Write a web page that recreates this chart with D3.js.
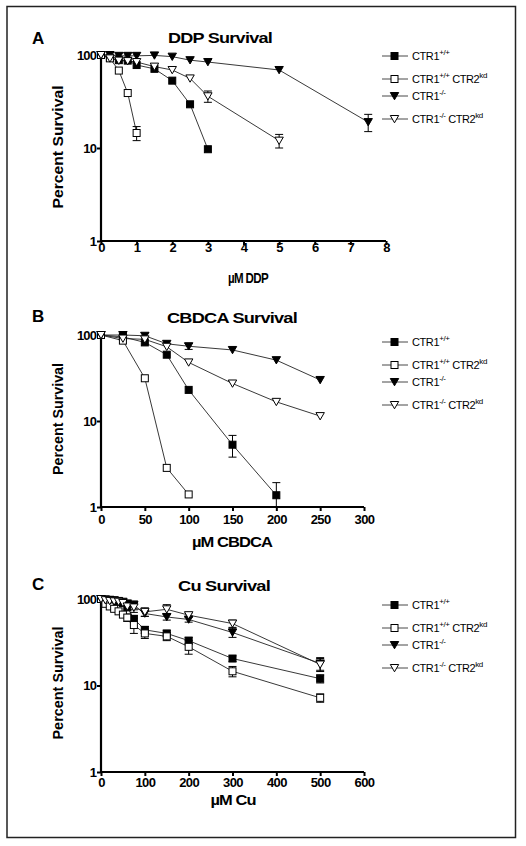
<!DOCTYPE html>
<html><head><meta charset="utf-8">
<script src="https://cdn.jsdelivr.net/npm/d3@7"></script>
<style>body{margin:0;background:#fff}svg{display:block}text{font-family:Arial,"Liberation Sans",sans-serif}</style>
</head><body><div id="chart"></div>
<script>
// ---------- DATA ----------
const seriesKeys = ["wt", "wtKd", "ko", "koKd"];
const legendSup = ["+/+", "+/+", "-/-", "-/-"];
const legendKd = [false, true, false, true];
const markerTypes = ["filledSquare", "openSquare", "filledTriangle", "openTriangle"];

// Panel A: DDP
const ddpX = {
  wt:   [0, 0.25, 0.5, 0.75, 1, 1.5, 2, 2.5, 3],
  wtKd: [0, 0.25, 0.5, 0.75, 1],
  ko:   [0, 0.25, 0.5, 0.75, 1, 1.5, 2, 2.5, 3, 5, 7.5],
  koKd: [0, 0.25, 0.5, 0.75, 1, 1.5, 2, 2.5, 3, 5]
};
const ddpY = {
  wt:   [100, 93, 88, 87, 78, 71, 53, 29.5, 9.7],
  wtKd: [100, 92, 68, 39, 14.5],
  ko:   [100, 100, 98, 98, 98, 99, 96, 88, 84, 69, 19],
  koKd: [100, 92, 87, 86, 84, 75, 69, 56, 36, 12]
};
const ddpErr = {
  wt:   [0, 0, 0, 0, 0, 0, 0, 0, 0],
  wtKd: [0, 0, 0, 0, 2.5],
  ko:   [0, 0, 0, 0, 0, 0, 0, 0, 0, 0, 4],
  koKd: [0, 0, 0, 0, 0, 0, 0, 0, 5, 2]
};
const ddpTicks = [0, 1, 2, 3, 4, 5, 6, 7, 8];

// Panel B: CBDCA
const cbdcaX = {
  wt:   [0, 25, 50, 75, 100, 150, 200],
  wtKd: [0, 25, 50, 75, 100],
  ko:   [0, 25, 50, 75, 100, 150, 200, 250],
  koKd: [0, 25, 50, 75, 100, 150, 200, 250]
};
const cbdcaY = {
  wt:   [100, 95, 82, 59, 23, 5.3, 1.37],
  wtKd: [100, 86, 31.4, 2.85, 1.4],
  ko:   [100, 100, 98, 79, 74, 67, 51, 30],
  koKd: [100, 91, 89, 73, 48, 27.3, 16.7, 11.4]
};
const cbdcaErr = {
  wt:   [0, 0, 0, 0, 0, 1.5, 0.55],
  wtKd: [0, 0, 0, 0, 0],
  ko:   [0, 0, 0, 0, 6, 0, 0, 0],
  koKd: [0, 0, 0, 0, 0, 0, 0, 0]
};
const cbdcaTicks = [0, 50, 100, 150, 200, 250, 300];

// Panel C: Cu
const cuX = [0, 10, 20, 30, 40, 50, 60, 75, 100, 150, 200, 300, 500];
const cuY = {
  wt:   [100, 98, 97, 95, 93, 90, 80, 59, 44, 40, 33, 20.5, 12],
  wtKd: [100, 88, 82, 77, 72, 66, 61, 50, 40, 37, 28, 14.6, 7.2],
  ko:   [100, 99, 98, 97, 95, 93, 89, 85, 68, 62, 58, 41, 18],
  koKd: [100, 97, 95, 94, 93, 90, 82, 80, 71, 76, 65, 52, 17.5]
};
const cuErr = {
  wt:   [0, 0, 0, 0, 0, 0, 0, 5, 4, 3, 3, 1.5, 1.3],
  wtKd: [0, 0, 0, 0, 0, 0, 6, 10, 5, 4, 5, 2, 0.8],
  ko:   [0, 0, 0, 0, 0, 0, 0, 10, 5, 5, 4, 5, 3],
  koKd: [0, 0, 0, 0, 0, 0, 0, 10, 8, 10, 4, 5, 3]
};
const cuTicks = [0, 100, 200, 300, 400, 500, 600];

const yTicks = [1, 10, 100];
const panelLetters = ["A", "B", "C"];
const panelTitles = ["DDP Survival", "CBDCA Survival", "Cu Survival"];
const xTitles = ["\u00B5M DDP", "\u00B5M CBDCA", "\u00B5M Cu"];
const yTitle = "Percent Survival";

// ---------- LAYOUT ----------
const W = 526, H = 846;
const panels = [
  {xs: d => ddpX[d], ys: d => ddpY[d], es: d => ddpErr[d], ticks: ddpTicks, x0: 101, x1: 386, yTop: 55, yBot: 241,
   titleX: 220, titleBase: 43, titleLen: 104, letterBase: 44, xLabY: 249, xTitleX: 248, xTitleY: 283, xTitleLen: 40,
   yTitleY: 147, yTitleLen: 123, legY: 56},
  {xs: d => cbdcaX[d], ys: d => cbdcaY[d], es: d => cbdcaErr[d], ticks: cbdcaTicks, x0: 101, x1: 364, yTop: 335, yBot: 507,
   titleX: 232, titleBase: 323, titleLen: 130, letterBase: 322, xLabY: 521, xTitleX: 232, xTitleY: 547, xTitleLen: 80,
   yTitleY: 419, yTitleLen: 112, legY: 342},
  {xs: d => cuX, ys: d => cuY[d], es: d => cuErr[d], ticks: cuTicks, x0: 101, x1: 364, yTop: 599, yBot: 772,
   titleX: 224, titleBase: 591, titleLen: 92, letterBase: 590, xLabY: 784, xTitleX: 233, xTitleY: 805, xTitleLen: 45,
   yTitleY: 683, yTitleLen: 113, legY: 605}
];
const legOffsets = [0, 23, 40, 63];

const svg = d3.select("#chart").append("svg").attr("width", W).attr("height", H);
svg.append("rect").attr("x", 7).attr("y", 6.5).attr("width", 508.5).attr("height", 831)
  .attr("fill", "none").attr("stroke", "#222").attr("stroke-width", 1.5);

function drawMarker(g, type, x, y) {
  if (type === "filledSquare" || type === "openSquare") {
    g.append("rect").attr("x", x - 3.5).attr("y", y - 3.5).attr("width", 7).attr("height", 7)
      .attr("fill", type === "filledSquare" ? "#000" : "#fff").attr("stroke", "#000").attr("stroke-width", 1);
  } else {
    g.append("path").attr("d", `M${x - 4.2},${y - 3.5}L${x + 4.2},${y - 3.5}L${x},${y + 3.8}Z`)
      .attr("fill", type === "filledTriangle" ? "#000" : "#fff").attr("stroke", "#000").attr("stroke-width", 1);
  }
}

panels.forEach((p, pi) => {
  const x = d3.scaleLinear().domain([p.ticks[0], p.ticks[p.ticks.length - 1]]).range([p.x0, p.x1]);
  const y = d3.scaleLog().domain([1, 100]).range([p.yBot, p.yTop]);
  const g = svg.append("g");

  // axes
  const xAxis = d3.axisBottom(x).tickValues(p.ticks).tickSize(4).tickPadding(2).tickFormat(d3.format("d"));
  const gx = g.append("g").attr("transform", `translate(0,${p.yBot})`).call(xAxis);
  gx.select(".domain").attr("stroke-width", 2.2).attr("d", `M${p.x0 - 1},0H${p.x1}`);
  gx.selectAll(".tick line").attr("stroke-width", 2);
  gx.selectAll(".tick text").attr("font-size", 13).attr("font-weight", "bold").attr("fill", "#000")
    .attr("letter-spacing", -0.6)
    .attr("y", null).attr("dy", null).attr("transform", `translate(0,${p.xLabY - p.yBot})`).attr("dominant-baseline", "middle");

  const yAxis = d3.axisLeft(y).tickValues(yTicks).tickSize(4).tickPadding(1).tickFormat(d3.format("d"));
  const gy = g.append("g").attr("transform", `translate(${p.x0},0)`).call(yAxis);
  gy.select(".domain").attr("stroke-width", 2.2).attr("d", `M0,${p.yTop}V${p.yBot + 1}`);
  gy.selectAll(".tick line").attr("stroke-width", 2);
  gy.selectAll(".tick text").attr("font-size", 13).attr("font-weight", "bold").attr("fill", "#000")
    .attr("letter-spacing", -0.9);

  // titles
  g.append("text").attr("x", 32).attr("y", p.letterBase).attr("font-size", 17).attr("font-weight", "bold").text(panelLetters[pi]);
  g.append("text").attr("x", p.titleX).attr("y", p.titleBase).attr("text-anchor", "middle")
    .attr("font-size", 14.5).attr("font-weight", "bold").attr("letter-spacing", -0.6)
    .attr("textLength", p.titleLen).attr("lengthAdjust", "spacingAndGlyphs").text(panelTitles[pi]);
  g.append("text").attr("x", p.xTitleX).attr("y", p.xTitleY).attr("text-anchor", "middle")
    .attr("font-size", 14).attr("font-weight", "bold").attr("letter-spacing", -0.8)
    .attr("textLength", p.xTitleLen).attr("lengthAdjust", "spacingAndGlyphs").text(xTitles[pi]);
  g.append("text").attr("transform", `translate(63,${p.yTitleY}) rotate(-90)`).attr("text-anchor", "middle")
    .attr("font-size", 14).attr("font-weight", "bold")
    .attr("textLength", p.yTitleLen).attr("lengthAdjust", "spacingAndGlyphs").text(yTitle);

  // series
  const line = d3.line().x(d => x(d[0])).y(d => y(d[1]));
  seriesKeys.forEach((k, si) => {
    const pts = p.xs(k).map((xv, i) => [xv, p.ys(k)[i], p.es(k)[i]]);
    g.append("path").datum(pts).attr("d", line).attr("fill", "none").attr("stroke", "#222").attr("stroke-width", 0.9);
  });
  seriesKeys.forEach((k, si) => {
    const pts = p.xs(k).map((xv, i) => [xv, p.ys(k)[i], p.es(k)[i]]);
    pts.forEach(d => {
      if (d[2] > 0) {
        const yt = y(d[1] + d[2]), yb = y(Math.max(d[1] - d[2], 1.01));
        g.append("line").attr("x1", x(d[0])).attr("x2", x(d[0])).attr("y1", yt).attr("y2", yb).attr("stroke", "#000").attr("stroke-width", 1);
        [yt, yb].forEach(yy => g.append("line").attr("x1", x(d[0]) - 4).attr("x2", x(d[0]) + 4)
          .attr("y1", yy).attr("y2", yy).attr("stroke", "#000").attr("stroke-width", 1));
      }
    });
    pts.forEach(d => drawMarker(g, markerTypes[si], x(d[0]), y(d[1])));
  });

  // legend
  seriesKeys.forEach((k, si) => {
    const ly = p.legY + legOffsets[si];
    g.append("line").attr("x1", 382).attr("x2", 408).attr("y1", ly).attr("y2", ly).attr("stroke", "#333").attr("stroke-width", 0.9);
    drawMarker(g, markerTypes[si], 394.5, ly);
    const t = g.append("text").attr("x", 412).attr("y", ly + 4).attr("font-size", 11).attr("letter-spacing", -0.4);
    t.append("tspan").text("CTR1");
    t.append("tspan").attr("dy", -5).attr("font-size", 8).text(legendSup[si]);
    if (legendKd[si]) {
      t.append("tspan").attr("dy", 5).attr("font-size", 11).text(" CTR2");
      t.append("tspan").attr("dy", -5).attr("font-size", 8).text("kd");
    }
  });
});
</script></body></html>
